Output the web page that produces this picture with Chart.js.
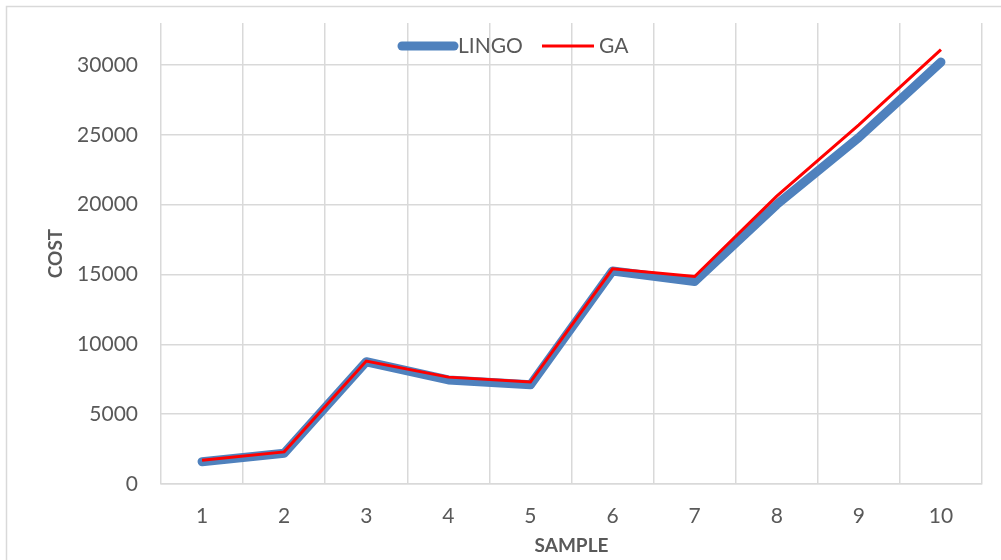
<!DOCTYPE html>
<html>
<head>
<meta charset="utf-8">
<script src="https://cdn.jsdelivr.net/npm/chart.js@4.4.1/dist/chart.umd.min.js"></script>
<style>
  html, body { margin: 0; padding: 0; background: #ffffff; }
  #wrap { position: relative; width: 1001px; height: 560px; }
  canvas { display: block; }
</style>
</head>
<body>
<div id="wrap"><canvas id="c" width="1001" height="560"></canvas></div>
<script>
const categories = ['1', '2', '3', '4', '5', '6', '7', '8', '9', '10'];
const lingoValues = [1600, 2200, 8750, 7450, 7100, 15250, 14500, 20000, 24800, 30200];
const gaValues = [1700, 2300, 8800, 7650, 7300, 15400, 14850, 20600, 25700, 31100];
const yTicks = [0, 5000, 10000, 15000, 20000, 25000, 30000];
const seriesNames = ['LINGO', 'GA'];

const FONT = 'Lato, "Open Sans", sans-serif';
const TXT = '#595959';
const GRID = '#d9d9d9';

const frame = {
  id: 'frame',
  beforeDraw(chart) {
    const ctx = chart.ctx;
    ctx.save();
    ctx.fillStyle = '#ffffff';
    ctx.fillRect(0, 0, chart.width, chart.height);
    ctx.strokeStyle = '#d9d9d9';
    ctx.lineWidth = 1.5;
    ctx.strokeRect(6.5, 6.5, chart.width + 20, chart.height + 20);
    ctx.restore();
  }
};

const topLegend = {
  id: 'topLegend',
  afterDraw(chart) {
    const ctx = chart.ctx;
    const ds = chart.data.datasets;
    ctx.save();
    ctx.font = '21px ' + FONT;
    ctx.textBaseline = 'middle';
    ctx.fillStyle = TXT;
    const y = 46;
    let x = 398;
    ctx.lineCap = 'round';
    ctx.strokeStyle = ds[0].borderColor;
    ctx.lineWidth = ds[0].borderWidth;
    ctx.beginPath(); ctx.moveTo(x + 4, y); ctx.lineTo(x + 56, y); ctx.stroke();
    ctx.fillText(ds[0].label, x + 60, y);
    x = 542;
    ctx.lineCap = 'butt';
    ctx.strokeStyle = ds[1].borderColor;
    ctx.lineWidth = ds[1].borderWidth;
    ctx.beginPath(); ctx.moveTo(x, y); ctx.lineTo(x + 52, y); ctx.stroke();
    ctx.fillText(ds[1].label, x + 57, y);
    ctx.restore();
  }
};

new Chart(document.getElementById('c'), {
  type: 'line',
  data: {
    labels: categories,
    datasets: [
      {
        label: seriesNames[0],
        data: lingoValues,
        borderColor: '#4f81bd',
        backgroundColor: '#4f81bd',
        borderWidth: 9,
        borderCapStyle: 'round',
        borderJoinStyle: 'round',
        pointRadius: 0,
        tension: 0,
        order: 2
      },
      {
        label: seriesNames[1],
        data: gaValues,
        borderColor: '#ff0000',
        backgroundColor: '#ff0000',
        borderWidth: 3,
        pointRadius: 0,
        tension: 0,
        order: 1
      }
    ]
  },
  options: {
    responsive: false,
    animation: false,
    devicePixelRatio: 1,
    layout: { padding: { left: 0, top: 23, right: 19, bottom: 0 } },
    plugins: { legend: { display: false }, tooltip: { enabled: false } },
    scales: {
      x: {
        offset: true,
        grid: { offset: true, color: GRID, lineWidth: 1.5, drawTicks: false },
        border: { color: GRID, width: 1.5 },
        ticks: { color: TXT, font: { family: FONT, size: 21 }, padding: 20, maxRotation: 0 },
        title: { display: true, text: 'SAMPLE', color: TXT, font: { family: FONT, size: 19, weight: 'bold' }, padding: { top: 0, bottom: 3 } },
        afterFit(s) { s.height = 76; s.paddingLeft = 0; s.paddingRight = 0; }
      },
      y: {
        min: 0,
        max: 33000,
        grid: {
          color: (c) => (c.tick && yTicks.includes(c.tick.value)) ? GRID : 'rgba(0,0,0,0)',
          lineWidth: 1.5,
          drawTicks: false
        },
        border: { display: false },
        afterBuildTicks(s) { s.ticks = yTicks.map(v => ({ value: v })); },
        ticks: {
          color: TXT, font: { family: FONT, size: 21 }, padding: 23,
          callback: (v) => String(v)
        },
        title: { display: true, text: 'COST', color: TXT, font: { family: FONT, size: 19, weight: 'bold' }, padding: { top: 44, bottom: 0 } },
        afterFit(s) { s.width = 161; s.paddingTop = 0; s.paddingBottom = 0; }
      }
    }
  },
  plugins: [frame, topLegend]
});
</script>
</body>
</html>
